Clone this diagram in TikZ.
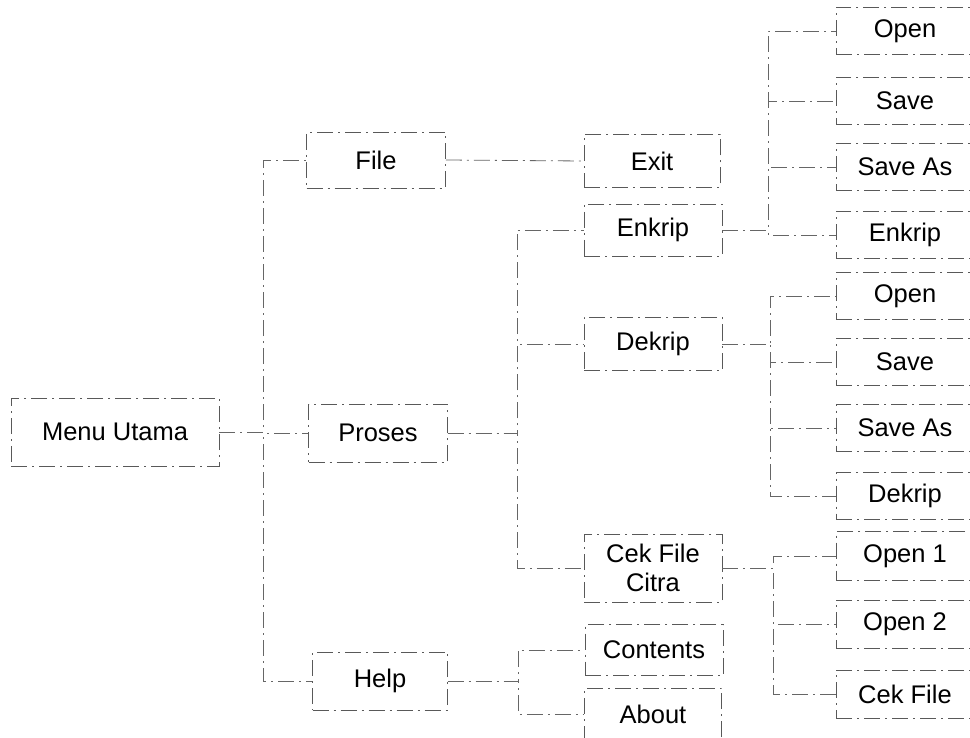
\documentclass[tikz,border=0pt]{standalone}
\usepackage{fontspec}
\setmainfont{Liberation Sans}
\begin{document}
\begin{tikzpicture}[x=1pt,y=-1pt,
  box/.style={draw=black!65, line width=0.9pt, dash pattern=on 16pt off 5pt on 2pt off 5pt, rectangle, inner sep=0pt, align=center, font=\fontsize{25.5}{29}\selectfont},
  conn/.style={draw=black!60, line width=0.8pt, dash pattern=on 16pt off 5pt on 2pt off 5pt}]
\useasboundingbox[fill=white] (0,0) rectangle (970,738);
% level 0
\node[box, minimum width=208pt, minimum height=68pt] (menu) at (115,432) {Menu Utama};
% level 1
\node[box, minimum width=139pt, minimum height=56pt] (file) at (376,160) {File};
\node[box, minimum width=139pt, minimum height=58pt] (proses) at (378,433) {Proses};
\node[box, minimum width=135pt, minimum height=58pt] (help) at (380,681) {Help};
% level 2
\node[box, minimum width=136pt, minimum height=53pt] (exit) at (652,161) {Exit};
\node[box, minimum width=138pt, minimum height=52pt] (enk) at (653,230) {Enkrip};
\node[box, minimum width=138pt, minimum height=53pt] (dek) at (653,344) {Dekrip};
\node[box, minimum width=138pt, minimum height=68pt] (cek) at (653,568) {Cek File\\Citra};
\node[box, minimum width=138pt, minimum height=51pt] (cont) at (654,650) {Contents};
\node[box, minimum width=137pt, minimum height=52pt] (about) at (653,714) {About};
% level 3
\node[box, minimum width=138pt, minimum height=47pt] (eopen) at (905,31) {Open};
\node[box, minimum width=138pt, minimum height=47pt] (esave) at (905,101) {Save};
\node[box, minimum width=138pt, minimum height=47pt] (esaveas) at (905,167) {Save As};
\node[box, minimum width=138pt, minimum height=47pt] (eenk) at (905,235) {Enkrip};
\node[box, minimum width=138pt, minimum height=47pt] (dopen) at (905,296) {Open};
\node[box, minimum width=138pt, minimum height=47pt] (dsave) at (905,362) {Save};
\node[box, minimum width=138pt, minimum height=47pt] (dsaveas) at (905,428) {Save As};
\node[box, minimum width=138pt, minimum height=47pt] (ddek) at (905,496) {Dekrip};
\node[box, minimum width=138pt, minimum height=49pt] (copen1) at (905,556) {Open 1};
\node[box, minimum width=138pt, minimum height=48pt] (copen2) at (905,624) {Open 2};
\node[box, minimum width=138pt, minimum height=48pt] (ccek) at (905,694) {Cek File};
% connectors
\foreach \c in {file,proses,help} \draw[conn] (menu.east) -- ++(44,0) |- (\c.west);
\draw[conn] (file.east) -- (exit.west);
\foreach \c in {enk,dek,cek} \draw[conn] (proses.east) -- ++(69,0) |- (\c.west);
\foreach \c in {cont,about} \draw[conn] (help.east) -- ++(70,0) |- (\c.west);
\foreach \c in {eopen,esave,esaveas,eenk} \draw[conn] (enk.east) -- ++(46,0) |- (\c.west);
\foreach \c in {dopen,dsave,dsaveas,ddek} \draw[conn] (dek.east) -- ++(48,0) |- (\c.west);
\foreach \c in {copen1,copen2,ccek} \draw[conn] (cek.east) -- ++(51,0) |- (\c.west);
\end{tikzpicture}
\end{document}
